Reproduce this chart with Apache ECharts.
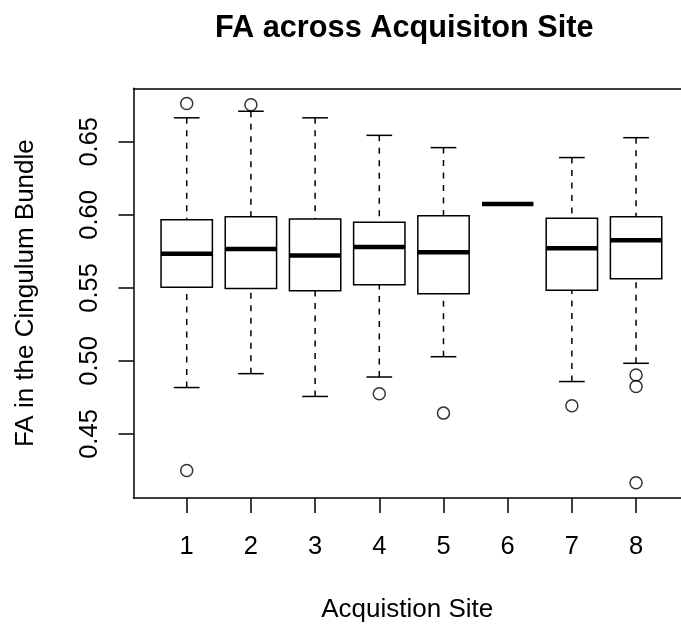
<!DOCTYPE html>
<html>
<head>
<meta charset="utf-8">
<script src="https://cdn.jsdelivr.net/npm/echarts@6/dist/echarts.min.js"></script>
<style>
  html, body { margin: 0; padding: 0; background: #fff; }
  #chart { width: 681px; height: 628px; }
</style>
</head>
<body>
<div id="chart"></div>
<script>
// Categories (acquisition sites)
const sites = [1, 2, 3, 4, 5, 6, 7, 8];
// Box statistics per site
const whiskerLow  = [0.4818, 0.4913, 0.4757, 0.4890, 0.5029, 0.6074, 0.4859, 0.4984];
const q1          = [0.5504, 0.5495, 0.5481, 0.5522, 0.5460, 0.6074, 0.5483, 0.5563];
const median      = [0.5733, 0.5767, 0.5721, 0.5779, 0.5744, 0.6074, 0.5772, 0.5826];
const q3          = [0.5967, 0.5987, 0.5971, 0.5949, 0.5994, 0.6074, 0.5976, 0.5987];
const whiskerHigh = [0.6664, 0.6709, 0.6664, 0.6544, 0.6460, 0.6074, 0.6392, 0.6528];
// Outliers: [site, value]
const outlierSite  = [1, 1, 2, 4, 5, 7, 8, 8, 8];
const outlierValue = [0.6762, 0.4250, 0.6753, 0.4775, 0.4643, 0.4693, 0.4904, 0.4825, 0.4166];
// Tick labels
const yTicks = [0.45, 0.50, 0.55, 0.60, 0.65];
const xTicks = sites;

const boxData = sites.map((s, i) => [s, whiskerLow[i], q1[i], median[i], q3[i], whiskerHigh[i]]);
const outlierData = outlierSite.map((s, i) => [s, outlierValue[i]]);

const FONT = 'Liberation Sans, Arial, Helvetica, sans-serif';
const BOX_W = 0.8;
const X_MIN = 0.171, X_MAX = 8.70;
const FRAME = { show: true, lineStyle: { color: '#000', width: 1.5 } };

const chart = echarts.init(document.getElementById('chart'), null, { renderer: 'canvas' });
chart.setOption({
  animation: false,
  backgroundColor: '#fff',
  title: {
    text: 'FA across Acquisiton Site',
    left: 215,
    top: 13,
    padding: 0,
    textStyle: { fontFamily: FONT, fontSize: 30.7, fontWeight: 'bold', color: '#000' }
  },
  grid: {
    left: 133.5, top: 88.3, right: 0, height: 411.7, show: false
  },
  xAxis: [
    {
      type: 'value',
      min: X_MIN, max: X_MAX,
      position: 'bottom',
      axisLine: FRAME,
      splitLine: { show: false },
      axisTick: { show: true, length: 15, customValues: xTicks, lineStyle: { color: '#000', width: 1.5 } },
      axisLabel: { customValues: xTicks, margin: 36, fontSize: 25.5, fontFamily: FONT, color: '#000',
                   formatter: v => String(v) },
      name: 'Acquistion Site',
      nameLocation: 'middle',
      nameGap: 99,
      nameTextStyle: { fontSize: 26, fontFamily: FONT, color: '#000' }
    },
    {
      type: 'value',
      min: X_MIN, max: X_MAX,
      position: 'top',
      axisLine: FRAME,
      splitLine: { show: false },
      axisTick: { show: false },
      axisLabel: { show: false }
    }
  ],
  yAxis: {
    type: 'value',
    min: 0.4062, max: 0.6866,
    axisLine: FRAME,
    splitLine: { show: false },
    axisTick: { show: true, length: 15, customValues: yTicks, lineStyle: { color: '#000', width: 1.5 } },
    axisLabel: { customValues: yTicks, rotate: 90, margin: 31, fontSize: 25.5, fontFamily: FONT, color: '#000',
                 formatter: v => v.toFixed(2) },
    name: 'FA in the Cingulum Bundle',
    nameLocation: 'middle',
    nameGap: 95,
    nameTextStyle: { fontSize: 26, fontFamily: FONT, color: '#000' }
  },
  series: [
    {
      type: 'custom',
      data: boxData,
      xAxisIndex: 0,
      clip: false,
      renderItem: function (params, api) {
        const x = api.value(0);
        const lo = api.coord([x, api.value(1)]);
        const b1 = api.coord([x, api.value(2)]);
        const md = api.coord([x, api.value(3)]);
        const b3 = api.coord([x, api.value(4)]);
        const hi = api.coord([x, api.value(5)]);
        const half = api.size([BOX_W, 0])[0] / 2;
        const cap = half / 2;
        const cx = lo[0];
        const dash = { stroke: '#000', lineWidth: 1.5, lineDash: [6, 6.5], fill: null };
        const solid = { stroke: '#000', lineWidth: 1.5, fill: null };
        return {
          type: 'group',
          children: [
            { type: 'line', shape: { x1: cx, y1: hi[1], x2: cx, y2: b3[1] }, style: dash },
            { type: 'line', shape: { x1: cx, y1: lo[1], x2: cx, y2: b1[1] }, style: dash },
            { type: 'line', shape: { x1: cx - cap, y1: hi[1], x2: cx + cap, y2: hi[1] }, style: solid },
            { type: 'line', shape: { x1: cx - cap, y1: lo[1], x2: cx + cap, y2: lo[1] }, style: solid },
            { type: 'rect', shape: { x: cx - half, y: b3[1], width: half * 2, height: b1[1] - b3[1] }, style: solid },
            { type: 'line', shape: { x1: cx - half, y1: md[1], x2: cx + half, y2: md[1] },
              style: { stroke: '#000', lineWidth: 4.5, lineCap: 'butt' } }
          ]
        };
      }
    },
    {
      type: 'scatter',
      data: outlierData,
      xAxisIndex: 0,
      symbol: 'circle',
      symbolSize: 12,
      itemStyle: { color: 'transparent', borderColor: '#000', borderWidth: 1.5 }
    }
  ]
});
</script>
</body>
</html>
